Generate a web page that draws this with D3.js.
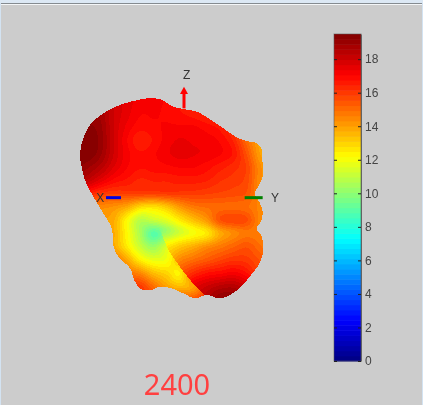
<!DOCTYPE html>
<html><head><meta charset="utf-8">
<style>
html,body{margin:0;padding:0;background:#ccc;overflow:hidden}
#wrap{position:relative;width:423px;height:405px;background:#cccccc}
canvas,svg{position:absolute;left:0;top:0}
canvas{filter:blur(0.6px)}
text{font-family:"Liberation Sans",Arial,sans-serif}
</style>
<script src="https://cdn.jsdelivr.net/npm/d3@7"></script>
</head><body><div id="wrap"><canvas id="c" width="423" height="405"></canvas><svg id="s" width="423" height="405"></svg></div>
<script>
const frameLabel = "2400";
const colorTicks = [0,2,4,6,8,10,12,14,16,18];
const colorMax = 19.5;
const jetStops = ["#000080","#0000ff","#00ffff","#ffff00","#ff0000","#800000"];
const jetPositions = [0,0.125,0.375,0.625,0.875,1];
const levels = 64;

const gridX = d3.range(40,680,40);
const gridY = d3.range(120,760,40);
const mainField = [
[19,19,18.5,18,17.5,17.3,17.2,17,16.7,16.5,16.2,16,15,14,13,13],
[19,19,18.8,18,17.5,17.1,17.1,17,16.8,16.6,16.3,15.9,15,14,13,13],
[19.4,19.3,19,18,17.3,16.9,17,17.1,17.1,17.1,16.9,16.6,15.8,14.4,13.5,13],
[19.5,19.5,19.1,18,17.1,16.5,16.8,17.2,17.4,17.3,17.2,17,16.4,15,13.8,13],
[19.5,19.5,19,18,17.2,16.8,17,17.3,17.5,17.4,17.3,17.1,16.7,15.5,14,13.5],
[19.3,19,18.5,17.7,17.1,16.8,16.9,17,17.1,17.1,16.9,16.6,16.3,15.8,14.4,14],
[18.8,18.3,17.6,17,16.7,16.4,16.5,16.5,16.6,16.6,16.5,16.2,16,15.7,14.4,14],
[17,16.6,16.1,15.9,15.9,15.9,15.9,16,16,16,15.9,15.8,15.7,15.5,14.4,14],
[15,14.8,14.5,14.3,13.9,13,12.8,13.3,14.2,14.8,15,15.1,15.1,15,14.5,14],
[14,14,14,13.8,12.3,10.9,11.2,11.7,12.6,13.4,14.2,15.5,15.8,15.6,14.5,14],
[14,14,14,13.8,12.3,10.6,9,10,11.2,12,12.6,13.8,14.4,14.8,14.6,14],
[14.5,14.5,14.5,13.9,12.6,11.2,10.3,11.5,13,13.5,14,14.6,15.2,15.5,15,14.5],
[15.5,15.5,15.5,15,13.9,12.5,11.8,12,13.5,14.5,15,15.5,16,16,15.5,15],
[16,16,16,15.8,15,14.5,13.5,13,12.5,15,16,16.5,17,16.5,15.5,15],
[16,16,16,16,16,16,15,14,13.5,14,15.5,17,18,18,17,16],
[16,16,16,16,16,16,16,15.5,15.5,15.5,16.5,18,19,19,18,17]
];
const lobeX = d3.range(280,680,40);
const lobeY = [520,560,600,640,680,720];
const lobeField = [
[12,12,12,12.3,12.6,13.8,14.4,14.8,14.6,14],
[12.5,12.7,13.3,13.8,14.4,14.8,15.2,15.5,15,14.5],
[13,13.5,14.5,15,15.4,15.8,16.1,16,15.5,15],
[14,14.5,15.5,16.3,16.8,17,17.2,16.8,15.8,15],
[15,15.5,16.4,17.5,18,18.4,18.5,18,17,16],
[16,16,16.8,17.8,18.5,19.2,19.3,19,18,17]
];
const outline = [[265,115],[300,118],[340,140],[370,147],[410,155],[450,178],[490,205],[530,232],[560,243],[590,250],[604,265],[607,300],[610,340],[600,370],[585,400],[600,430],[608,460],[600,490],[590,505],[605,530],[610,570],[598,610],[577,640],[552,670],[518,700],[480,715],[440,705],[405,715],[370,700],[335,685],[300,680],[275,690],[245,688],[225,665],[210,625],[175,590],[160,555],[155,505],[130,460],[100,410],[75,360],[65,320],[60,290],[68,240],[90,195],[130,160],[180,135],[225,122]];
const lobeEdge = [[300,505],[312,540],[325,570],[345,600],[368,632],[392,662],[435,708],[480,760],[680,760],[680,505]];

const sx = d3.scaleLinear().domain([0,660]).range([60,280]);
const sy = d3.scaleLinear().domain([0,750]).range([60,310]);
const barY = d3.scaleLinear().domain([0,colorMax]).range([361,34]);
const jet = d3.scaleLinear().domain(jetPositions).range(jetStops).interpolate(d3.interpolateRgb).clamp(true);
const quant = v => jet((Math.min(levels-1,Math.max(0,Math.floor(v/colorMax*levels)))+0.5)/levels);
const lobeBlend = d3.scaleLinear().domain([505,565]).range([0,1]).clamp(true);

function cr(p0,p1,p2,p3,t){return 0.5*((2*p1)+(-p0+p2)*t+(2*p0-5*p1+4*p2-p3)*t*t+(-p0+3*p1-3*p2+p3)*t*t*t);}
function sample(xs,ys,f,x,y){
  const dx=xs[1]-xs[0],dy=ys[1]-ys[0];
  let u=(x-xs[0])/dx,v=(y-ys[0])/dy;
  u=Math.max(0,Math.min(xs.length-1.001,u));v=Math.max(0,Math.min(ys.length-1.001,v));
  const i=Math.floor(u),j=Math.floor(v),tu=u-i,tv=v-j;
  const g=(a,b)=>f[Math.max(0,Math.min(ys.length-1,b))][Math.max(0,Math.min(xs.length-1,a))];
  const r=[];
  for(let b=-1;b<=2;b++) r.push(cr(g(i-1,j+b),g(i,j+b),g(i+1,j+b),g(i+2,j+b),tu));
  return cr(r[0],r[1],r[2],r[3],tv);
}
const ctx=document.getElementById('c').getContext('2d');
ctx.fillStyle="#cccccc";ctx.fillRect(0,0,423,405);
const line=d3.line().x(d=>sx(d[0])).y(d=>sy(d[1])).curve(d3.curveCatmullRomClosed.alpha(0.5));
const pathOut=new Path2D(line(outline));
const lobeLine=d3.line().x(d=>sx(d[0])).y(d=>sy(d[1])).curve(d3.curveLinearClosed);
const pathLobe=new Path2D(lobeLine(lobeEdge));
for(let py=60;py<310;py++)for(let px=60;px<290;px++){
  if(!ctx.isPointInPath(pathOut,px+.5,py+.5))continue;
  const x=sx.invert(px+.5),y=sy.invert(py+.5);
  let v=sample(gridX,gridY,mainField,x,y);
  if(ctx.isPointInPath(pathLobe,px+.5,py+.5)){
    const w=lobeBlend(y);
    v=v*(1-w)+sample(lobeX,lobeY,lobeField,x,y)*w;
  }
  ctx.fillStyle=quant(v);ctx.fillRect(px,py,1,1);
}
const svg=d3.select('#s');
svg.append('rect').attr('x',0).attr('y',0).attr('width',423).attr('height',3).attr('fill','#dce8f4');
svg.append('rect').attr('x',0).attr('y',3).attr('width',423).attr('height',1).attr('fill','#858b90');
svg.append('rect').attr('x',0).attr('y',4).attr('width',423).attr('height',1).attr('fill','#f4f6f8');
svg.append('rect').attr('x',0).attr('y',3).attr('width',1).attr('height',402).attr('fill','#d3e3f2');
svg.append('rect').attr('x',422).attr('y',3).attr('width',1).attr('height',402).attr('fill','#d3e3f2');
const band=(barY(0)-barY(colorMax))/levels;
svg.append('g').selectAll('rect').data(d3.range(levels)).join('rect')
 .attr('x',334).attr('width',27)
 .attr('y',d=>barY((d+1)/levels*colorMax)).attr('height',band+0.5)
 .attr('fill',d=>jet((d+.5)/levels));
svg.append('rect').attr('x',334).attr('y',barY(colorMax)).attr('width',27).attr('height',barY(0)-barY(colorMax))
 .attr('fill','none').attr('stroke','#555').attr('stroke-opacity',0.55);
const axis=d3.axisRight(barY).tickValues(colorTicks).tickSize(0).tickPadding(4);
const ga=svg.append('g').attr('transform','translate(361,0)').call(axis);
ga.select('.domain').attr('stroke','#333').attr('stroke-opacity',.6);
ga.selectAll('text').attr('font-size',12).attr('fill','#444');
ga.selectAll('.tick').append('line').attr('x1',-3).attr('x2',0).attr('stroke','#222');
ga.selectAll('.tick').append('line').attr('x1',-27).attr('x2',-24).attr('stroke','#222');
const tri=[{n:'Z',c:'#ff0000'},{n:'X',c:'#0000e0'},{n:'Y',c:'#008000'}];
svg.append('line').attr('x1',sx(372)).attr('x2',sx(372)).attr('y1',sy(145)).attr('y2',sy(100)).attr('stroke',tri[0].c).attr('stroke-width',3);
svg.append('path').attr('d',d3.line()([[sx(360),sy(102)],[sx(384),sy(102)],[sx(372),sy(80)]])+'Z').attr('fill',tri[0].c);
svg.append('line').attr('x1',sx(138)).attr('x2',sx(183)).attr('y1',sy(413)).attr('y2',sy(413)).attr('stroke',tri[1].c).attr('stroke-width',3);
svg.append('line').attr('x1',sx(554)).attr('x2',sx(608)).attr('y1',sy(413)).attr('y2',sy(413)).attr('stroke',tri[2].c).attr('stroke-width',3);
const lab=[['Z',380,45],['X',121,413],['Y',645,413]];
svg.append('g').selectAll('text').data(lab).join('text').text(d=>d[0])
 .attr('x',d=>sx(d[1])).attr('y',d=>sy(d[2])).attr('text-anchor','middle').attr('dominant-baseline','central')
 .attr('font-size',12).attr('fill','#333');
svg.append('text').text(frameLabel).attr('x',177).attr('y',395).attr('text-anchor','middle')
 .attr('font-size',29).attr('fill','#ff4040').style('font-family','"Noto Sans",sans-serif');
</script></body></html>
